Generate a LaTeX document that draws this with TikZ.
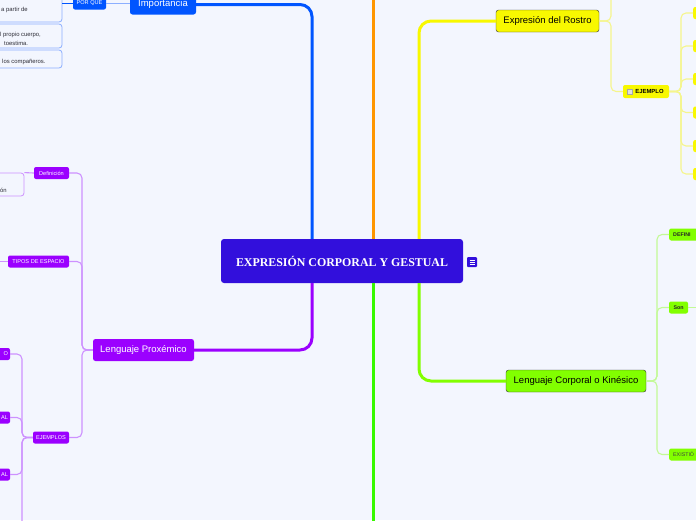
\documentclass[tikz,border=0pt]{standalone}
\usepackage{fontspec}
\setmainfont{Liberation Sans}
\newfontfamily\titlefont{Liberation Serif}
\definecolor{bgc}{RGB}{243,246,254}
\definecolor{centralc}{RGB}{50,15,220}
\definecolor{bluec}{RGB}{0,85,255}
\definecolor{bluel}{RGB}{140,175,255}
\definecolor{purplec}{RGB}{155,0,255}
\definecolor{purplel}{RGB}{205,145,255}
\definecolor{orangec}{RGB}{255,150,0}
\definecolor{yellowc}{RGB}{248,248,0}
\definecolor{yellowl}{RGB}{245,245,140}
\definecolor{greenc}{RGB}{55,250,0}
\definecolor{chartc}{RGB}{130,255,0}
\definecolor{chartl}{RGB}{195,250,150}
\definecolor{textc}{RGB}{45,45,55}
\begin{document}
\begin{tikzpicture}[x=1pt,y=-1pt,
  central/.style={fill=centralc, rounded corners=3, minimum width=242, minimum height=44, inner sep=0, text=white, font=\titlefont\bfseries\fontsize{11.9}{14}\selectfont},
  topic/.style={rounded corners=2.5, minimum height=22, inner sep=0, font=\fontsize{9.5}{11}\selectfont},
  sub/.style={rounded corners=2, minimum height=12, inner sep=0, font=\fontsize{5.6}{6.5}\selectfont},
  cutl/.style={sub, text width=34, align=right, inner xsep=2},
  cutr/.style={sub, text width=36, align=left, inner xsep=4, anchor=west},
  leafbox/.style={draw=#1, line width=0.8, rounded corners=3, inner sep=0},
  leaftext/.style={anchor=west, inner sep=0, text=textc, font=\fontsize{5.9}{7}\selectfont},
  mainline/.style={line width=3, rounded corners=12},
  twig/.style={line width=1.1, rounded corners=5},
]
\fill[bgc] (0,0) rectangle (696,520);
\useasboundingbox (0,0) rectangle (696,520);
\clip (0,0) rectangle (696,520);

% central
\node[central] (main) at (342,261) {EXPRESIÓN CORPORAL Y GESTUAL};
\node[fill=centralc, rounded corners=1, minimum size=10, inner sep=0] (menu) at (472,262) {};
\foreach \dy in {-2,0,2} \draw[white, line width=0.7] ([xshift=-2.5pt,yshift=\dy pt]menu.center) -- ++(5,0);

\coordinate (bT) at ([xshift=-30pt]main.north);
\coordinate (pB) at ([xshift=-30pt]main.south);
\coordinate (oT) at ([xshift=31pt]main.north);
\coordinate (gB) at ([xshift=31pt]main.south);
\coordinate (yT) at ([xshift=77pt]main.north);
\coordinate (cB) at ([xshift=77pt]main.south);
\coordinate (oTop) at (373,-10);
\coordinate (gBot) at (373,530);

% blue branch
\node[topic, fill=bluec, text=white, minimum width=66, minimum height=20] (imp) at (163,4.5) {Importancia};
\node[sub, fill=bluec, text=white, minimum width=33] (porque) at (89.5,3.5) {POR QUE};
\node[leafbox=bluel, minimum width=82, minimum height=32] (l1) at (21,6) {};
\node[leafbox=bluel, minimum width=82, minimum height=24] (l2) at (21,36) {};
\node[leafbox=bluel, minimum width=82, minimum height=18] (l3) at (21,59) {};
\node[leaftext] (t1) at (1,10) {a partir de};
\node[leaftext] (t2) at (0,35) {l propio cuerpo,};
\node[leaftext] (t3) at (4,43) {toestima.};
\node[leaftext] (t4) at (2,61.5) {los compañeros.};
\draw[twig, bluec] (porque.west) -- (l1.east |- porque.west);
\draw[twig, bluel] (imp.west |- porque.east) -- (porque.east);
\draw[mainline, bluec] (imp.east) -| (bT);

% purple branch
\node[topic, fill=purplec, text=white, minimum width=101] (prox) at (143.5,350) {Lenguaje Proxémico};
\node[sub, fill=purplec, text=white, minimum width=35] (def) at (51.5,173) {Definición};
\node[sub, fill=purplec, text=white, minimum width=61] (tipos) at (38.5,261.5) {TIPOS DE ESPACIO};
\node[sub, fill=purplec, text=white, minimum width=36] (ejs) at (51,437.5) {EJEMPLOS};
\node[leafbox=purplel, minimum width=44, minimum height=23] (dbox) at (2,184.5) {};
\node[leaftext] (t5) at (0,190) {ón};
\node[cutl, fill=purplec, text=white] (e1) at (-9,354) {O};
\node[cutl, fill=purplec, text=white] (e2) at (-9,417.5) {AL};
\node[cutl, fill=purplec, text=white] (e3) at (-9,474.5) {AL};
\coordinate (tiposEnd) at (-5,261.5);
\coordinate (ejDown) at (22,530);
\draw[twig, purplel] (def.west) -- (dbox.north east);
\draw[twig, purplel] (tipos.west) -- (tiposEnd);
\draw[twig, purplel] (prox.west) -- (82,350) |- (def.east);
\draw[twig, purplel] (prox.west) -- (82,350) |- (tipos.east);
\draw[twig, purplel] (prox.west) -- (82,350) |- (ejs.east);
\draw[twig, purplel] (ejs.west) -- (22,437.5) |- (e1.east);
\draw[twig, purplel] (ejs.west) -- (22,437.5) |- (e2.east);
\draw[twig, purplel] (ejs.west) -- (22,437.5) |- (e3.east);
\draw[twig, purplel] (ejs.west) -- (22,437.5) -- (ejDown);
\draw[mainline, purplec] (pB) |- (prox.east);

% orange and green trunks
\draw[mainline, orangec] (oT) -- (oTop);
\draw[mainline, greenc] (gB) -- (gBot);

% yellow branch
\node[topic, fill=yellowc, draw=black!80, text=black, minimum width=103] (rostro) at (547.5,21) {Expresión del Rostro};
\node[sub, fill=yellowc, text=black, minimum width=46, minimum height=13, font=\bfseries\fontsize{5.9}{7}\selectfont] (ejemplo) at (646,91.5) {\hspace{7pt}EJEMPLO};
\node[fill=black!12, draw=black!35, line width=0.4, minimum size=5, inner sep=0] (ejIcon) at (630,91.5) {};
\foreach \n/\y in {1/13,2/46,3/79,4/112.5,5/146,6/174}
  \node[sub, fill=yellowc, minimum width=30, anchor=west] (y\n) at (693,\y) {};
\coordinate (rUp) at (611,-10);
\draw[twig, yellowl] (rostro.east) -| (rUp);
\draw[twig, yellowl] (rostro.east) -- (611,21) |- (ejemplo.west);
\foreach \n in {1,...,6}
  \draw[twig, yellowl] (ejemplo.east) -- (681,91.5) |- (y\n.west);
\draw[mainline, yellowc] (yT) |- (rostro.west);

% chartreuse branch
\node[topic, fill=chartc, draw=black!80, text=black, minimum width=140] (kin) at (576,381) {Lenguaje Corporal o Kinésico};
\node[cutr, fill=chartc, text=black!85, font=\bfseries\fontsize{5.3}{6}\selectfont] (kdef) at (669,234.5) {DEFINI};
\node[sub, fill=chartc, text=black!85, minimum width=19, font=\bfseries\fontsize{5.3}{6}\selectfont] (kson) at (678.5,307.5) {Son};
\node[cutr, fill=chartc, text=black!75, font=\fontsize{5.3}{6}\selectfont] (kex) at (669,454.5) {EXISTIÓ};
\coordinate (sonR) at (700,307.5);
\draw[twig, chartl] (kin.east) -- (657,381) |- (kdef.west);
\draw[twig, chartl] (kin.east) -- (657,381) |- (kson.west);
\draw[twig, chartl] (kin.east) -- (657,381) |- (kex.west);
\draw[twig, chartl] (kson.east) -- (sonR);
\draw[mainline, chartc] (cB) |- (kin.west);
\end{tikzpicture}
\end{document}
